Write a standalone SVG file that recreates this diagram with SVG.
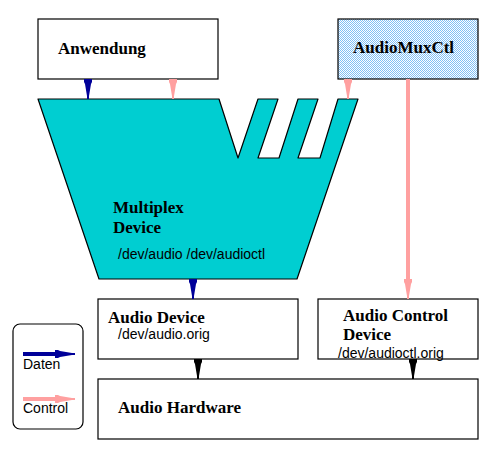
<svg xmlns="http://www.w3.org/2000/svg" xmlns:xlink="http://www.w3.org/1999/xlink" width="502" height="463" viewBox="0 0 502 463">
<style>
.box{fill:#fff;stroke:#000;stroke-width:1.2}
.b{font-family:"Liberation Serif","Times New Roman",serif;font-weight:bold;font-size:17px;fill:#000}
.s{font-family:"Liberation Sans",Arial,sans-serif;font-size:14px;fill:#000}
.blue{fill:#000099}
.pink{fill:#ffa0a0}
.black{fill:#000}
</style>
<defs>
<pattern id="chk" width="2" height="2" patternUnits="userSpaceOnUse">
<rect width="2" height="2" fill="#fff"/>
<rect width="1" height="1" fill="#80bff5"/>
<rect x="1" y="1" width="1" height="1" fill="#80bff5"/>
</pattern>
<path id="ah" d="M-4,0 H4 V3 L3,5 L1,17 V20 H-1 V17 L-3,5 L-4,3 Z"/>
</defs>
<rect width="502" height="463" fill="#fff"/>

<g id="anwendung">
<rect class="box" x="38" y="19" width="180" height="60"/>
<text class="b" x="58" y="54">Anwendung</text>
</g>

<g id="audiomuxctl">
<rect x="338" y="19" width="140" height="60" fill="url(#chk)" stroke="#000" stroke-width="1.2"/>
<text class="b" x="353" y="53">AudioMuxCtl</text>
</g>

<g id="multiplex">
<polygon points="38,99 219,99 238,158 258,99 278,99 258,158 279,158 298,99 318,99 298,158 320,158 338,99 358,99 297,279 99,279" fill="#00ced1" stroke="#000" stroke-width="1.2" stroke-linejoin="round"/>
<text class="b"><tspan x="113" y="213">Multiplex</tspan><tspan x="113" y="233">Device</tspan></text>
<text class="s" x="118" y="259">/dev/audio /dev/audioctl</text>
</g>

<g id="audiodevice">
<rect class="box" x="98" y="299" width="200" height="60"/>
<text class="b" x="108" y="323">Audio Device</text>
<text class="s" x="118" y="339">/dev/audio.orig</text>
</g>

<g id="audiocontroldevice">
<rect class="box" x="318" y="299" width="160" height="60"/>
<text class="b"><tspan x="343" y="321">Audio Control</tspan><tspan x="343" y="340">Device</tspan></text>
<text class="s" x="338" y="358">/dev/audioctl.orig</text>
</g>

<g id="audiohardware">
<rect class="box" x="98" y="379" width="380" height="60"/>
<text class="b" x="118" y="413">Audio Hardware</text>
</g>

<g id="legend">
<rect x="13" y="324" width="70" height="105" rx="7" ry="7" fill="#fff" stroke="#000" stroke-width="1.2"/>
<rect x="23" y="352" width="34" height="4" class="blue"/>
<use xlink:href="#ah" class="blue" transform="translate(55,354) rotate(-90)"/>
<text class="s" x="23" y="369">Daten</text>
<rect x="23" y="397" width="34" height="4" class="pink"/>
<use xlink:href="#ah" class="pink" transform="translate(55,399) rotate(-90)"/>
<text class="s" x="23" y="413">Control</text>
</g>

<g id="connectors">
<use xlink:href="#ah" class="blue" transform="translate(88,79)"/>
<use xlink:href="#ah" class="pink" transform="translate(173,79)"/>
<use xlink:href="#ah" class="pink" transform="translate(348,79)"/>
<rect x="406" y="79" width="4" height="202" class="pink"/>
<use xlink:href="#ah" class="pink" transform="translate(408,279)"/>
<use xlink:href="#ah" class="blue" transform="translate(193,279)"/>
<use xlink:href="#ah" class="black" transform="translate(198,359)"/>
<use xlink:href="#ah" class="black" transform="translate(413,359)"/>
</g>
</svg>
